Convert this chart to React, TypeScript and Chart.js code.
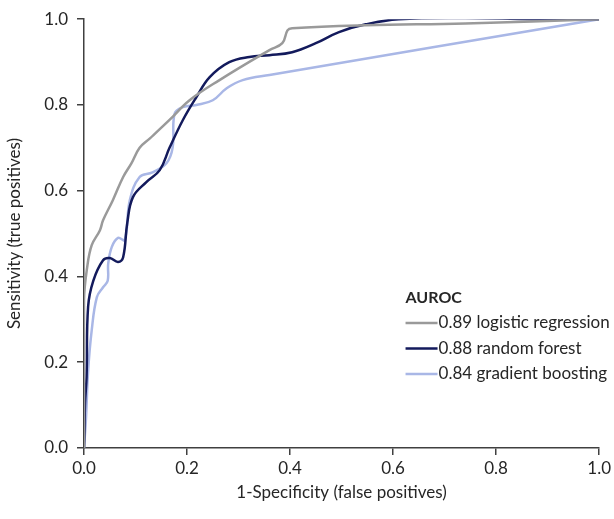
import React, { useEffect, useRef } from "react";
import { Chart, registerables } from "chart.js";

Chart.register(...registerables);

const seriesNames = ["0.89 logistic regression", "0.88 random forest", "0.84 gradient boosting"];
const legendTitle = "AUROC";
const xTitle = "1-Specificity (false positives)";
const yTitle = "Sensitivity (true positives)";

const lrX = [0, 0, 0.006, 0.015, 0.031, 0.037, 0.056, 0.076, 0.092, 0.108, 0.128, 0.166, 0.205, 0.263, 0.36, 0.385, 0.395, 0.404, 0.547, 0.74, 1];
const lrY = [0, 0.345, 0.42, 0.473, 0.508, 0.531, 0.578, 0.632, 0.664, 0.7, 0.722, 0.765, 0.811, 0.858, 0.928, 0.944, 0.974, 0.979, 0.986, 0.99, 1.0];

const rfX = [0, 0.001, 0.002, 0.005, 0.008, 0.018, 0.037, 0.05, 0.066, 0.076, 0.084, 0.095, 0.121, 0.147, 0.166, 0.192, 0.218, 0.244, 0.282, 0.321, 0.36, 0.404, 0.45, 0.495, 0.547, 0.611, 0.741, 0.87, 1];
const rfY = [0, 0.04, 0.105, 0.165, 0.33, 0.39, 0.438, 0.443, 0.434, 0.445, 0.525, 0.585, 0.62, 0.648, 0.7, 0.765, 0.818, 0.865, 0.9, 0.912, 0.916, 0.923, 0.944, 0.97, 0.988, 1.0, 1.003, 1.0, 1.0];

const gbX = [0, 0.004, 0.008, 0.015, 0.025, 0.037, 0.046, 0.047, 0.054, 0.066, 0.079, 0.089, 0.108, 0.133, 0.16, 0.172, 0.176, 0.192, 0.218, 0.25, 0.277, 0.308, 0.36, 1];
const gbY = [0, 0.072, 0.18, 0.275, 0.352, 0.375, 0.39, 0.43, 0.469, 0.49, 0.485, 0.578, 0.632, 0.643, 0.664, 0.7, 0.78, 0.795, 0.8, 0.811, 0.839, 0.858, 0.87, 1.0];

const colors = ["#9a9a9a", "#131a5c", "#a9b7e6"];

const zip = (xs: number[], ys: number[]) => xs.map((x, i) => ({ x, y: ys[i] }));

const FONT = "Lato, 'Open Sans', sans-serif";
const TEXT = "#262626";

const legendPlugin = {
  id: "insideLegend",
  afterDraw(chart: any) {
    const ctx = chart.ctx;
    const xs = chart.scales.x;
    const ys = chart.scales.y;
    const left = xs.getPixelForValue(0.6242);
    const titleY = ys.getPixelForValue(0.35);
    ctx.save();
    ctx.fillStyle = TEXT;
    ctx.textBaseline = "middle";
    ctx.textAlign = "left";
    ctx.font = `bold 16px ${FONT}`;
    ctx.fillText(legendTitle, left, titleY);
    ctx.font = `17px ${FONT}`;
    seriesNames.forEach((name, i) => {
      const y = titleY + 25 + i * 25.5;
      ctx.strokeStyle = colors[i];
      ctx.lineWidth = 2.5;
      ctx.beginPath();
      ctx.moveTo(left, y);
      ctx.lineTo(left + 32, y);
      ctx.stroke();
      ctx.fillText(name, left + 33, y);
    });
    ctx.restore();
  },
};

export default function App() {
  const ref = useRef<HTMLCanvasElement>(null);
  useEffect(() => {
    if (!ref.current) return;
    const mk = (i: number, xs: number[], ys: number[]) => ({
      label: seriesNames[i],
      data: zip(xs, ys),
      showLine: true,
      borderColor: colors[i],
      backgroundColor: colors[i],
      borderWidth: 2.5,
      pointRadius: 0,
      tension: 0.4,
      fill: false,
    });
    const chart = new Chart(ref.current, {
      type: "scatter",
      data: {
        datasets: [mk(0, lrX, lrY), mk(1, rfX, rfY), mk(2, gbX, gbY)],
      },
      plugins: [legendPlugin],
      options: {
        animation: false,
        responsive: false,
        maintainAspectRatio: false,
        layout: { padding: { left: 0, top: 19, right: 13, bottom: 12 } },
        plugins: { legend: { display: false }, tooltip: { enabled: false } },
        scales: {
          x: {
            type: "linear",
            min: 0,
            max: 1,
            afterFit: (s: any) => { s.height = 59; },
            border: { color: "#404040", width: 1.5 },
            grid: { drawOnChartArea: false, tickLength: 7, color: "#404040", lineWidth: 1.5 },
            ticks: { stepSize: 0.2, padding: 3, color: TEXT, font: { family: FONT, size: 17 }, callback: (v: any) => Number(v).toFixed(1) },
            title: { display: true, text: xTitle, color: TEXT, font: { family: FONT, size: 17 }, padding: { top: 4, bottom: 4 } },
          },
          y: {
            type: "linear",
            min: 0,
            max: 1,
            afterFit: (s: any) => { s.width = 84; },
            border: { color: "#404040", width: 1.5 },
            grid: { drawOnChartArea: false, tickLength: 7, color: "#404040", lineWidth: 1.5 },
            ticks: { stepSize: 0.2, padding: 9, color: TEXT, font: { family: FONT, size: 17 }, callback: (v: any) => Number(v).toFixed(1) },
            title: { display: true, text: yTitle, color: TEXT, font: { family: FONT, size: 17 }, padding: { top: 4, bottom: 4 } },
          },
        },
      },
    } as any);
    return () => chart.destroy();
  }, []);
  return (
    <div style={{ position: "fixed", left: 0, top: 0, width: 614, height: 519, background: "#fff" }}>
      <canvas ref={ref} width={614} height={519} style={{ width: 614, height: 519 }} />
    </div>
  );
}
